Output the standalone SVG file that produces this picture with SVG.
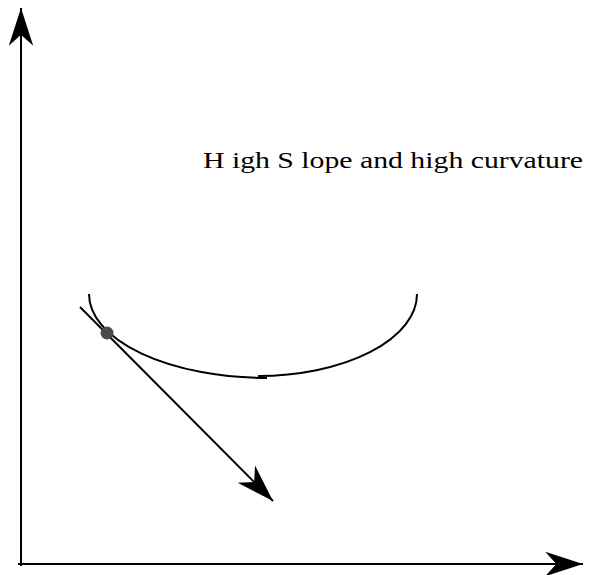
<svg xmlns="http://www.w3.org/2000/svg" width="592" height="575" viewBox="0 0 592 575">
<style>
.ax{stroke:#000;stroke-width:2;fill:none}
.cv{stroke:#000;stroke-width:2;fill:none}
.lbl{font-family:"Liberation Serif","DejaVu Serif",serif;font-size:24px;fill:#000}
</style>
<defs>
<marker id="stealth" markerUnits="userSpaceOnUse" markerWidth="40" markerHeight="30" viewBox="-34 -12 36 24" refX="0" refY="0" orient="auto">
<path d="M0,0 L-34,-11 L-24,0 L-34,11 Z" fill="#000"/>
</marker>
</defs>
<rect width="592" height="575" fill="#fff"/>
<g id="connectors">
<line id="y-axis" class="ax" x1="21" y1="566" x2="21" y2="8" marker-end="url(#stealth)"/>
<line id="x-axis" class="ax" x1="18" y1="564" x2="583" y2="564" marker-end="url(#stealth)"/>
<line id="tangent" class="ax" x1="80" y1="307" x2="273" y2="501" marker-end="url(#stealth)"/>
</g>
<g id="curve">
<path class="cv" d="M89,294 A178,84 0 0,0 267,378"/>
<path class="cv" d="M258,376 A159,82 0 0,0 417,294"/>
</g>
<g id="point">
<circle cx="107" cy="333" r="6.5" fill="#4a4a4a"/>
</g>
<g id="label">
<text class="lbl" x="203" y="168" textLength="380" lengthAdjust="spacingAndGlyphs">H igh S lope and high curvature</text>
</g>
</svg>
